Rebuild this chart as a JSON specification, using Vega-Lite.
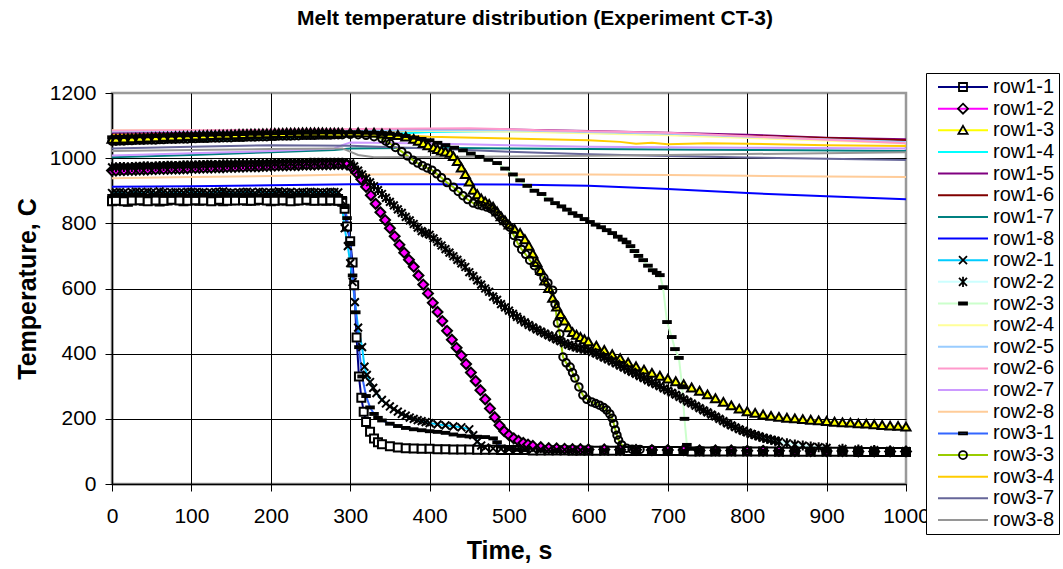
{
"$schema":"https://vega.github.io/schema/vega-lite/v6.json",
"width":794,"height":391,
"autosize":{"type":"none"},
"padding":{"left":112,"top":93,"right":157,"bottom":85},
"background":"white",
"title":{"text":"Melt temperature distribution (Experiment CT-3)","font":"Liberation Sans","fontSize":21,"fontWeight":"bold","color":"black","anchor":"middle","frame":"group","offset":44,"dx":26},
"config":{"view":{"stroke":"#999999","strokeWidth":2.5},"font":"Liberation Sans"},
"data":{"values":[
{"s":"row1-1","t":0,"v":868},{"s":"row1-1","t":10,"v":870},{"s":"row1-1","t":20,"v":866},{"s":"row1-1","t":30,"v":872},{"s":"row1-1","t":40,"v":869},{"s":"row1-1","t":50,"v":871},{"s":"row1-1","t":60,"v":867},{"s":"row1-1","t":70,"v":870},{"s":"row1-1","t":80,"v":873},{"s":"row1-1","t":90,"v":868},{"s":"row1-1","t":100,"v":871},{"s":"row1-1","t":110,"v":869},{"s":"row1-1","t":120,"v":872},{"s":"row1-1","t":130,"v":870},{"s":"row1-1","t":140,"v":868},{"s":"row1-1","t":150,"v":871},{"s":"row1-1","t":160,"v":873},{"s":"row1-1","t":170,"v":869},{"s":"row1-1","t":180,"v":870},{"s":"row1-1","t":190,"v":872},{"s":"row1-1","t":200,"v":868},{"s":"row1-1","t":210,"v":871},{"s":"row1-1","t":220,"v":870},{"s":"row1-1","t":230,"v":869},{"s":"row1-1","t":240,"v":872},{"s":"row1-1","t":250,"v":870},{"s":"row1-1","t":260,"v":871},{"s":"row1-1","t":270,"v":869},{"s":"row1-1","t":280,"v":870},{"s":"row1-1","t":290,"v":866},{"s":"row1-1","t":293,"v":845},{"s":"row1-1","t":296,"v":790},{"s":"row1-1","t":300,"v":745},{"s":"row1-1","t":303,"v":680},{"s":"row1-1","t":305,"v":610},{"s":"row1-1","t":308,"v":450},{"s":"row1-1","t":311,"v":330},{"s":"row1-1","t":314,"v":265},{"s":"row1-1","t":317,"v":222},{"s":"row1-1","t":320,"v":190},{"s":"row1-1","t":325,"v":160},{"s":"row1-1","t":330,"v":140},{"s":"row1-1","t":335,"v":128},{"s":"row1-1","t":340,"v":122},{"s":"row1-1","t":350,"v":116},{"s":"row1-1","t":360,"v":112},{"s":"row1-1","t":370,"v":110},{"s":"row1-1","t":380,"v":109},{"s":"row1-1","t":390,"v":108},{"s":"row1-1","t":400,"v":108},{"s":"row1-1","t":410,"v":107},{"s":"row1-1","t":420,"v":107},{"s":"row1-1","t":430,"v":106},{"s":"row1-1","t":440,"v":106},{"s":"row1-1","t":450,"v":106},{"s":"row1-1","t":460,"v":105},{"s":"row1-1","t":470,"v":105},{"s":"row1-1","t":480,"v":105},{"s":"row1-1","t":490,"v":104},{"s":"row1-1","t":500,"v":104},{"s":"row1-1","t":510,"v":104},{"s":"row1-1","t":520,"v":104},{"s":"row1-1","t":530,"v":103},{"s":"row1-1","t":540,"v":103},{"s":"row1-1","t":550,"v":103},{"s":"row1-1","t":560,"v":103},{"s":"row1-1","t":570,"v":103},{"s":"row1-1","t":580,"v":102},{"s":"row1-1","t":590,"v":102},{"s":"row1-1","t":600,"v":102},{"s":"row1-1","t":610,"v":102},{"s":"row1-1","t":620,"v":102},{"s":"row1-1","t":630,"v":102},{"s":"row1-1","t":640,"v":102},{"s":"row1-1","t":650,"v":101},{"s":"row1-1","t":660,"v":101},{"s":"row1-1","t":670,"v":101},{"s":"row1-1","t":680,"v":101},{"s":"row1-1","t":690,"v":101},{"s":"row1-1","t":700,"v":101},{"s":"row1-1","t":710,"v":101},{"s":"row1-1","t":720,"v":101},{"s":"row1-1","t":730,"v":100},{"s":"row1-1","t":740,"v":100},{"s":"row1-1","t":750,"v":100},{"s":"row1-1","t":760,"v":100},{"s":"row1-1","t":770,"v":100},{"s":"row1-1","t":780,"v":100},{"s":"row1-1","t":790,"v":100},{"s":"row1-1","t":800,"v":100},{"s":"row1-1","t":810,"v":100},{"s":"row1-1","t":820,"v":100},{"s":"row1-1","t":830,"v":100},{"s":"row1-1","t":840,"v":99},{"s":"row1-1","t":850,"v":99},{"s":"row1-1","t":860,"v":99},{"s":"row1-1","t":870,"v":99},{"s":"row1-1","t":880,"v":99},{"s":"row1-1","t":890,"v":99},{"s":"row1-1","t":900,"v":99},{"s":"row1-1","t":910,"v":99},{"s":"row1-1","t":920,"v":99},{"s":"row1-1","t":930,"v":99},{"s":"row1-1","t":940,"v":98},{"s":"row1-1","t":950,"v":98},{"s":"row1-1","t":960,"v":98},{"s":"row1-1","t":970,"v":98},{"s":"row1-1","t":980,"v":98},{"s":"row1-1","t":990,"v":98},{"s":"row1-1","t":1000,"v":98},
{"s":"row1-2","t":0,"v":962},{"s":"row1-2","t":10,"v":963},{"s":"row1-2","t":20,"v":964},{"s":"row1-2","t":30,"v":964},{"s":"row1-2","t":40,"v":965},{"s":"row1-2","t":50,"v":966},{"s":"row1-2","t":60,"v":967},{"s":"row1-2","t":70,"v":967},{"s":"row1-2","t":80,"v":968},{"s":"row1-2","t":90,"v":969},{"s":"row1-2","t":100,"v":970},{"s":"row1-2","t":110,"v":970},{"s":"row1-2","t":120,"v":971},{"s":"row1-2","t":130,"v":972},{"s":"row1-2","t":140,"v":972},{"s":"row1-2","t":150,"v":973},{"s":"row1-2","t":160,"v":974},{"s":"row1-2","t":170,"v":975},{"s":"row1-2","t":180,"v":975},{"s":"row1-2","t":190,"v":976},{"s":"row1-2","t":200,"v":977},{"s":"row1-2","t":210,"v":978},{"s":"row1-2","t":220,"v":978},{"s":"row1-2","t":230,"v":979},{"s":"row1-2","t":240,"v":980},{"s":"row1-2","t":250,"v":980},{"s":"row1-2","t":260,"v":981},{"s":"row1-2","t":270,"v":981},{"s":"row1-2","t":280,"v":982},{"s":"row1-2","t":290,"v":982},{"s":"row1-2","t":296,"v":980},{"s":"row1-2","t":302,"v":972},{"s":"row1-2","t":308,"v":955},{"s":"row1-2","t":314,"v":935},{"s":"row1-2","t":320,"v":912},{"s":"row1-2","t":326,"v":886},{"s":"row1-2","t":332,"v":860},{"s":"row1-2","t":338,"v":834},{"s":"row1-2","t":344,"v":810},{"s":"row1-2","t":350,"v":785},{"s":"row1-2","t":356,"v":760},{"s":"row1-2","t":362,"v":734},{"s":"row1-2","t":368,"v":710},{"s":"row1-2","t":374,"v":688},{"s":"row1-2","t":380,"v":667},{"s":"row1-2","t":386,"v":640},{"s":"row1-2","t":392,"v":612},{"s":"row1-2","t":398,"v":585},{"s":"row1-2","t":404,"v":556},{"s":"row1-2","t":410,"v":528},{"s":"row1-2","t":416,"v":500},{"s":"row1-2","t":422,"v":470},{"s":"row1-2","t":428,"v":443},{"s":"row1-2","t":434,"v":418},{"s":"row1-2","t":440,"v":394},{"s":"row1-2","t":446,"v":368},{"s":"row1-2","t":452,"v":342},{"s":"row1-2","t":458,"v":316},{"s":"row1-2","t":464,"v":288},{"s":"row1-2","t":470,"v":260},{"s":"row1-2","t":476,"v":232},{"s":"row1-2","t":482,"v":205},{"s":"row1-2","t":488,"v":180},{"s":"row1-2","t":494,"v":162},{"s":"row1-2","t":500,"v":150},{"s":"row1-2","t":506,"v":140},{"s":"row1-2","t":512,"v":132},{"s":"row1-2","t":518,"v":126},{"s":"row1-2","t":524,"v":121},{"s":"row1-2","t":530,"v":117},{"s":"row1-2","t":540,"v":113},{"s":"row1-2","t":550,"v":110},{"s":"row1-2","t":560,"v":109},{"s":"row1-2","t":570,"v":108},{"s":"row1-2","t":580,"v":107},{"s":"row1-2","t":590,"v":107},{"s":"row1-2","t":600,"v":106},{"s":"row1-2","t":620,"v":106},{"s":"row1-2","t":640,"v":105},{"s":"row1-2","t":660,"v":105},{"s":"row1-2","t":680,"v":104},{"s":"row1-2","t":700,"v":104},{"s":"row1-2","t":720,"v":104},{"s":"row1-2","t":740,"v":103},{"s":"row1-2","t":760,"v":103},{"s":"row1-2","t":780,"v":103},{"s":"row1-2","t":800,"v":102},{"s":"row1-2","t":820,"v":102},{"s":"row1-2","t":840,"v":102},{"s":"row1-2","t":860,"v":101},{"s":"row1-2","t":880,"v":101},{"s":"row1-2","t":900,"v":101},{"s":"row1-2","t":920,"v":101},{"s":"row1-2","t":940,"v":100},{"s":"row1-2","t":960,"v":100},{"s":"row1-2","t":980,"v":100},{"s":"row1-2","t":1000,"v":100},
{"s":"row1-3","t":0,"v":1058},{"s":"row1-3","t":10,"v":1059},{"s":"row1-3","t":20,"v":1060},{"s":"row1-3","t":30,"v":1061},{"s":"row1-3","t":40,"v":1062},{"s":"row1-3","t":50,"v":1063},{"s":"row1-3","t":60,"v":1064},{"s":"row1-3","t":70,"v":1065},{"s":"row1-3","t":80,"v":1066},{"s":"row1-3","t":90,"v":1067},{"s":"row1-3","t":100,"v":1068},{"s":"row1-3","t":110,"v":1069},{"s":"row1-3","t":120,"v":1070},{"s":"row1-3","t":130,"v":1070},{"s":"row1-3","t":140,"v":1071},{"s":"row1-3","t":150,"v":1072},{"s":"row1-3","t":160,"v":1073},{"s":"row1-3","t":170,"v":1073},{"s":"row1-3","t":180,"v":1074},{"s":"row1-3","t":190,"v":1075},{"s":"row1-3","t":200,"v":1075},{"s":"row1-3","t":210,"v":1076},{"s":"row1-3","t":220,"v":1077},{"s":"row1-3","t":230,"v":1077},{"s":"row1-3","t":240,"v":1078},{"s":"row1-3","t":250,"v":1078},{"s":"row1-3","t":260,"v":1078},{"s":"row1-3","t":270,"v":1077},{"s":"row1-3","t":280,"v":1077},{"s":"row1-3","t":290,"v":1077},{"s":"row1-3","t":300,"v":1078},{"s":"row1-3","t":310,"v":1078},{"s":"row1-3","t":320,"v":1077},{"s":"row1-3","t":330,"v":1077},{"s":"row1-3","t":340,"v":1075},{"s":"row1-3","t":350,"v":1073},{"s":"row1-3","t":360,"v":1070},{"s":"row1-3","t":370,"v":1065},{"s":"row1-3","t":380,"v":1058},{"s":"row1-3","t":386,"v":1052},{"s":"row1-3","t":392,"v":1045},{"s":"row1-3","t":398,"v":1038},{"s":"row1-3","t":405,"v":1032},{"s":"row1-3","t":410,"v":1027},{"s":"row1-3","t":415,"v":1022},{"s":"row1-3","t":420,"v":1019},{"s":"row1-3","t":426,"v":1015},{"s":"row1-3","t":430,"v":1005},{"s":"row1-3","t":435,"v":990},{"s":"row1-3","t":440,"v":970},{"s":"row1-3","t":445,"v":950},{"s":"row1-3","t":450,"v":927},{"s":"row1-3","t":455,"v":902},{"s":"row1-3","t":460,"v":888},{"s":"row1-3","t":465,"v":875},{"s":"row1-3","t":470,"v":866},{"s":"row1-3","t":475,"v":858},{"s":"row1-3","t":480,"v":850},{"s":"row1-3","t":485,"v":835},{"s":"row1-3","t":490,"v":820},{"s":"row1-3","t":495,"v":808},{"s":"row1-3","t":500,"v":795},{"s":"row1-3","t":507,"v":782},{"s":"row1-3","t":514,"v":769},{"s":"row1-3","t":520,"v":750},{"s":"row1-3","t":525,"v":730},{"s":"row1-3","t":530,"v":706},{"s":"row1-3","t":535,"v":680},{"s":"row1-3","t":540,"v":655},{"s":"row1-3","t":545,"v":623},{"s":"row1-3","t":550,"v":600},{"s":"row1-3","t":555,"v":570},{"s":"row1-3","t":560,"v":543},{"s":"row1-3","t":565,"v":520},{"s":"row1-3","t":570,"v":500},{"s":"row1-3","t":575,"v":480},{"s":"row1-3","t":580,"v":465},{"s":"row1-3","t":585,"v":457},{"s":"row1-3","t":590,"v":450},{"s":"row1-3","t":595,"v":443},{"s":"row1-3","t":600,"v":437},{"s":"row1-3","t":610,"v":423},{"s":"row1-3","t":620,"v":410},{"s":"row1-3","t":630,"v":397},{"s":"row1-3","t":640,"v":385},{"s":"row1-3","t":650,"v":372},{"s":"row1-3","t":660,"v":360},{"s":"row1-3","t":670,"v":350},{"s":"row1-3","t":680,"v":340},{"s":"row1-3","t":690,"v":331},{"s":"row1-3","t":700,"v":322},{"s":"row1-3","t":710,"v":314},{"s":"row1-3","t":720,"v":305},{"s":"row1-3","t":730,"v":295},{"s":"row1-3","t":740,"v":285},{"s":"row1-3","t":750,"v":274},{"s":"row1-3","t":760,"v":262},{"s":"row1-3","t":770,"v":251},{"s":"row1-3","t":780,"v":240},{"s":"row1-3","t":790,"v":230},{"s":"row1-3","t":800,"v":222},{"s":"row1-3","t":810,"v":217},{"s":"row1-3","t":820,"v":212},{"s":"row1-3","t":830,"v":208},{"s":"row1-3","t":840,"v":205},{"s":"row1-3","t":850,"v":202},{"s":"row1-3","t":860,"v":200},{"s":"row1-3","t":870,"v":198},{"s":"row1-3","t":880,"v":196},{"s":"row1-3","t":890,"v":194},{"s":"row1-3","t":900,"v":192},{"s":"row1-3","t":910,"v":190},{"s":"row1-3","t":920,"v":188},{"s":"row1-3","t":930,"v":187},{"s":"row1-3","t":940,"v":185},{"s":"row1-3","t":950,"v":184},{"s":"row1-3","t":960,"v":182},{"s":"row1-3","t":970,"v":180},{"s":"row1-3","t":980,"v":178},{"s":"row1-3","t":990,"v":177},{"s":"row1-3","t":1000,"v":175},
{"s":"row1-4","t":0,"v":1050},{"s":"row1-4","t":100,"v":1055},{"s":"row1-4","t":200,"v":1060},{"s":"row1-4","t":300,"v":1068},{"s":"row1-4","t":400,"v":1080},{"s":"row1-4","t":500,"v":1083},{"s":"row1-4","t":600,"v":1078},{"s":"row1-4","t":700,"v":1072},{"s":"row1-4","t":800,"v":1065},{"s":"row1-4","t":900,"v":1058},{"s":"row1-4","t":1000,"v":1050},
{"s":"row1-5","t":0,"v":1078},{"s":"row1-5","t":100,"v":1080},{"s":"row1-5","t":200,"v":1082},{"s":"row1-5","t":300,"v":1085},{"s":"row1-5","t":400,"v":1088},{"s":"row1-5","t":500,"v":1088},{"s":"row1-5","t":600,"v":1083},{"s":"row1-5","t":700,"v":1078},{"s":"row1-5","t":800,"v":1072},{"s":"row1-5","t":900,"v":1063},{"s":"row1-5","t":1000,"v":1058},
{"s":"row1-6","t":0,"v":1072},{"s":"row1-6","t":100,"v":1075},{"s":"row1-6","t":200,"v":1078},{"s":"row1-6","t":300,"v":1082},{"s":"row1-6","t":400,"v":1085},{"s":"row1-6","t":500,"v":1084},{"s":"row1-6","t":600,"v":1080},{"s":"row1-6","t":700,"v":1073},{"s":"row1-6","t":800,"v":1068},{"s":"row1-6","t":900,"v":1062},{"s":"row1-6","t":1000,"v":1055},
{"s":"row1-7","t":0,"v":1003},{"s":"row1-7","t":100,"v":1010},{"s":"row1-7","t":200,"v":1018},{"s":"row1-7","t":280,"v":1025},{"s":"row1-7","t":300,"v":1030},{"s":"row1-7","t":400,"v":1032},{"s":"row1-7","t":500,"v":1030},{"s":"row1-7","t":600,"v":1028},{"s":"row1-7","t":800,"v":1025},{"s":"row1-7","t":1000,"v":1022},
{"s":"row1-8","t":0,"v":912},{"s":"row1-8","t":100,"v":914},{"s":"row1-8","t":200,"v":917},{"s":"row1-8","t":300,"v":920},{"s":"row1-8","t":400,"v":920},{"s":"row1-8","t":500,"v":919},{"s":"row1-8","t":600,"v":915},{"s":"row1-8","t":700,"v":905},{"s":"row1-8","t":800,"v":893},{"s":"row1-8","t":900,"v":883},{"s":"row1-8","t":1000,"v":874},
{"s":"row2-1","t":0,"v":893},{"s":"row2-1","t":10,"v":896},{"s":"row2-1","t":20,"v":892},{"s":"row2-1","t":30,"v":897},{"s":"row2-1","t":40,"v":894},{"s":"row2-1","t":50,"v":895},{"s":"row2-1","t":60,"v":898},{"s":"row2-1","t":70,"v":893},{"s":"row2-1","t":80,"v":896},{"s":"row2-1","t":90,"v":894},{"s":"row2-1","t":100,"v":897},{"s":"row2-1","t":110,"v":895},{"s":"row2-1","t":120,"v":893},{"s":"row2-1","t":130,"v":896},{"s":"row2-1","t":140,"v":898},{"s":"row2-1","t":150,"v":894},{"s":"row2-1","t":160,"v":895},{"s":"row2-1","t":170,"v":897},{"s":"row2-1","t":180,"v":893},{"s":"row2-1","t":190,"v":896},{"s":"row2-1","t":200,"v":894},{"s":"row2-1","t":210,"v":898},{"s":"row2-1","t":220,"v":895},{"s":"row2-1","t":230,"v":893},{"s":"row2-1","t":240,"v":896},{"s":"row2-1","t":250,"v":897},{"s":"row2-1","t":260,"v":894},{"s":"row2-1","t":270,"v":895},{"s":"row2-1","t":280,"v":896},{"s":"row2-1","t":285,"v":895},{"s":"row2-1","t":289,"v":870},{"s":"row2-1","t":293,"v":785},{"s":"row2-1","t":297,"v":730},{"s":"row2-1","t":300,"v":678},{"s":"row2-1","t":303,"v":620},{"s":"row2-1","t":306,"v":558},{"s":"row2-1","t":310,"v":480},{"s":"row2-1","t":315,"v":420},{"s":"row2-1","t":318,"v":360},{"s":"row2-1","t":321,"v":335},{"s":"row2-1","t":325,"v":313},{"s":"row2-1","t":329,"v":295},{"s":"row2-1","t":333,"v":279},{"s":"row2-1","t":340,"v":258},{"s":"row2-1","t":345,"v":247},{"s":"row2-1","t":350,"v":238},{"s":"row2-1","t":355,"v":230},{"s":"row2-1","t":360,"v":222},{"s":"row2-1","t":365,"v":215},{"s":"row2-1","t":370,"v":210},{"s":"row2-1","t":375,"v":204},{"s":"row2-1","t":380,"v":200},{"s":"row2-1","t":385,"v":196},{"s":"row2-1","t":390,"v":193},{"s":"row2-1","t":395,"v":190},{"s":"row2-1","t":400,"v":187},{"s":"row2-1","t":410,"v":183},{"s":"row2-1","t":420,"v":180},{"s":"row2-1","t":430,"v":177},{"s":"row2-1","t":440,"v":174},{"s":"row2-1","t":450,"v":168},{"s":"row2-1","t":455,"v":150},{"s":"row2-1","t":460,"v":130},{"s":"row2-1","t":465,"v":118},{"s":"row2-1","t":470,"v":112},{"s":"row2-1","t":480,"v":109},{"s":"row2-1","t":490,"v":108},{"s":"row2-1","t":500,"v":107},{"s":"row2-1","t":510,"v":107},{"s":"row2-1","t":520,"v":106},{"s":"row2-1","t":530,"v":106},{"s":"row2-1","t":540,"v":106},{"s":"row2-1","t":550,"v":105},{"s":"row2-1","t":560,"v":105},{"s":"row2-1","t":570,"v":105},{"s":"row2-1","t":580,"v":105},{"s":"row2-1","t":590,"v":104},{"s":"row2-1","t":600,"v":104},{"s":"row2-1","t":620,"v":104},{"s":"row2-1","t":640,"v":103},{"s":"row2-1","t":660,"v":103},{"s":"row2-1","t":680,"v":103},{"s":"row2-1","t":700,"v":103},{"s":"row2-1","t":720,"v":102},{"s":"row2-1","t":740,"v":102},{"s":"row2-1","t":760,"v":102},{"s":"row2-1","t":780,"v":102},{"s":"row2-1","t":800,"v":102},{"s":"row2-1","t":820,"v":101},{"s":"row2-1","t":840,"v":101},{"s":"row2-1","t":860,"v":101},{"s":"row2-1","t":880,"v":101},{"s":"row2-1","t":900,"v":101},{"s":"row2-1","t":920,"v":101},{"s":"row2-1","t":940,"v":100},{"s":"row2-1","t":960,"v":100},{"s":"row2-1","t":980,"v":100},{"s":"row2-1","t":1000,"v":100},
{"s":"row2-2","t":0,"v":972},{"s":"row2-2","t":10,"v":973},{"s":"row2-2","t":20,"v":972},{"s":"row2-2","t":30,"v":974},{"s":"row2-2","t":40,"v":975},{"s":"row2-2","t":50,"v":974},{"s":"row2-2","t":60,"v":976},{"s":"row2-2","t":70,"v":977},{"s":"row2-2","t":80,"v":976},{"s":"row2-2","t":90,"v":978},{"s":"row2-2","t":100,"v":978},{"s":"row2-2","t":110,"v":979},{"s":"row2-2","t":120,"v":980},{"s":"row2-2","t":130,"v":979},{"s":"row2-2","t":140,"v":981},{"s":"row2-2","t":150,"v":981},{"s":"row2-2","t":160,"v":982},{"s":"row2-2","t":170,"v":982},{"s":"row2-2","t":180,"v":983},{"s":"row2-2","t":190,"v":983},{"s":"row2-2","t":200,"v":984},{"s":"row2-2","t":210,"v":984},{"s":"row2-2","t":220,"v":985},{"s":"row2-2","t":230,"v":985},{"s":"row2-2","t":240,"v":985},{"s":"row2-2","t":250,"v":986},{"s":"row2-2","t":260,"v":986},{"s":"row2-2","t":270,"v":986},{"s":"row2-2","t":280,"v":986},{"s":"row2-2","t":290,"v":986},{"s":"row2-2","t":300,"v":984},{"s":"row2-2","t":305,"v":975},{"s":"row2-2","t":310,"v":962},{"s":"row2-2","t":315,"v":950},{"s":"row2-2","t":320,"v":938},{"s":"row2-2","t":325,"v":926},{"s":"row2-2","t":330,"v":914},{"s":"row2-2","t":335,"v":902},{"s":"row2-2","t":340,"v":890},{"s":"row2-2","t":345,"v":878},{"s":"row2-2","t":350,"v":866},{"s":"row2-2","t":355,"v":855},{"s":"row2-2","t":360,"v":843},{"s":"row2-2","t":365,"v":832},{"s":"row2-2","t":370,"v":820},{"s":"row2-2","t":375,"v":809},{"s":"row2-2","t":380,"v":798},{"s":"row2-2","t":385,"v":787},{"s":"row2-2","t":390,"v":776},{"s":"row2-2","t":395,"v":770},{"s":"row2-2","t":400,"v":765},{"s":"row2-2","t":405,"v":754},{"s":"row2-2","t":410,"v":743},{"s":"row2-2","t":415,"v":732},{"s":"row2-2","t":420,"v":721},{"s":"row2-2","t":425,"v":710},{"s":"row2-2","t":430,"v":699},{"s":"row2-2","t":435,"v":688},{"s":"row2-2","t":440,"v":677},{"s":"row2-2","t":445,"v":666},{"s":"row2-2","t":450,"v":650},{"s":"row2-2","t":455,"v":638},{"s":"row2-2","t":460,"v":625},{"s":"row2-2","t":465,"v":612},{"s":"row2-2","t":470,"v":600},{"s":"row2-2","t":475,"v":590},{"s":"row2-2","t":480,"v":575},{"s":"row2-2","t":485,"v":565},{"s":"row2-2","t":490,"v":552},{"s":"row2-2","t":495,"v":542},{"s":"row2-2","t":500,"v":532},{"s":"row2-2","t":505,"v":522},{"s":"row2-2","t":510,"v":513},{"s":"row2-2","t":515,"v":504},{"s":"row2-2","t":520,"v":496},{"s":"row2-2","t":525,"v":488},{"s":"row2-2","t":530,"v":481},{"s":"row2-2","t":535,"v":474},{"s":"row2-2","t":540,"v":468},{"s":"row2-2","t":545,"v":462},{"s":"row2-2","t":550,"v":456},{"s":"row2-2","t":555,"v":450},{"s":"row2-2","t":560,"v":444},{"s":"row2-2","t":565,"v":438},{"s":"row2-2","t":570,"v":432},{"s":"row2-2","t":575,"v":427},{"s":"row2-2","t":580,"v":423},{"s":"row2-2","t":585,"v":419},{"s":"row2-2","t":590,"v":416},{"s":"row2-2","t":595,"v":413},{"s":"row2-2","t":600,"v":411},{"s":"row2-2","t":605,"v":405},{"s":"row2-2","t":610,"v":400},{"s":"row2-2","t":615,"v":394},{"s":"row2-2","t":620,"v":388},{"s":"row2-2","t":625,"v":382},{"s":"row2-2","t":630,"v":376},{"s":"row2-2","t":635,"v":370},{"s":"row2-2","t":640,"v":363},{"s":"row2-2","t":645,"v":357},{"s":"row2-2","t":650,"v":350},{"s":"row2-2","t":655,"v":344},{"s":"row2-2","t":660,"v":338},{"s":"row2-2","t":665,"v":331},{"s":"row2-2","t":670,"v":325},{"s":"row2-2","t":675,"v":318},{"s":"row2-2","t":680,"v":312},{"s":"row2-2","t":685,"v":306},{"s":"row2-2","t":690,"v":300},{"s":"row2-2","t":695,"v":293},{"s":"row2-2","t":700,"v":287},{"s":"row2-2","t":705,"v":280},{"s":"row2-2","t":710,"v":274},{"s":"row2-2","t":715,"v":267},{"s":"row2-2","t":720,"v":260},{"s":"row2-2","t":725,"v":253},{"s":"row2-2","t":730,"v":247},{"s":"row2-2","t":735,"v":240},{"s":"row2-2","t":740,"v":233},{"s":"row2-2","t":745,"v":226},{"s":"row2-2","t":750,"v":220},{"s":"row2-2","t":755,"v":213},{"s":"row2-2","t":760,"v":207},{"s":"row2-2","t":765,"v":200},{"s":"row2-2","t":770,"v":193},{"s":"row2-2","t":775,"v":186},{"s":"row2-2","t":780,"v":180},{"s":"row2-2","t":785,"v":174},{"s":"row2-2","t":790,"v":168},{"s":"row2-2","t":795,"v":163},{"s":"row2-2","t":800,"v":158},{"s":"row2-2","t":805,"v":154},{"s":"row2-2","t":810,"v":150},{"s":"row2-2","t":815,"v":146},{"s":"row2-2","t":820,"v":142},{"s":"row2-2","t":825,"v":139},{"s":"row2-2","t":830,"v":136},{"s":"row2-2","t":835,"v":133},{"s":"row2-2","t":840,"v":130},{"s":"row2-2","t":850,"v":125},{"s":"row2-2","t":860,"v":121},{"s":"row2-2","t":870,"v":118},{"s":"row2-2","t":880,"v":115},{"s":"row2-2","t":890,"v":113},{"s":"row2-2","t":900,"v":111},{"s":"row2-2","t":920,"v":108},{"s":"row2-2","t":940,"v":106},{"s":"row2-2","t":960,"v":104},{"s":"row2-2","t":980,"v":102},{"s":"row2-2","t":1000,"v":101},
{"s":"row2-3","t":0,"v":1064},{"s":"row2-3","t":10,"v":1065},{"s":"row2-3","t":20,"v":1066},{"s":"row2-3","t":30,"v":1066},{"s":"row2-3","t":40,"v":1067},{"s":"row2-3","t":50,"v":1068},{"s":"row2-3","t":60,"v":1068},{"s":"row2-3","t":70,"v":1069},{"s":"row2-3","t":80,"v":1070},{"s":"row2-3","t":90,"v":1070},{"s":"row2-3","t":100,"v":1071},{"s":"row2-3","t":110,"v":1071},{"s":"row2-3","t":120,"v":1072},{"s":"row2-3","t":130,"v":1072},{"s":"row2-3","t":140,"v":1073},{"s":"row2-3","t":150,"v":1073},{"s":"row2-3","t":160,"v":1074},{"s":"row2-3","t":170,"v":1074},{"s":"row2-3","t":180,"v":1075},{"s":"row2-3","t":190,"v":1075},{"s":"row2-3","t":200,"v":1076},{"s":"row2-3","t":210,"v":1076},{"s":"row2-3","t":220,"v":1077},{"s":"row2-3","t":230,"v":1077},{"s":"row2-3","t":240,"v":1078},{"s":"row2-3","t":250,"v":1078},{"s":"row2-3","t":260,"v":1078},{"s":"row2-3","t":270,"v":1079},{"s":"row2-3","t":280,"v":1079},{"s":"row2-3","t":290,"v":1079},{"s":"row2-3","t":300,"v":1079},{"s":"row2-3","t":310,"v":1079},{"s":"row2-3","t":320,"v":1078},{"s":"row2-3","t":330,"v":1078},{"s":"row2-3","t":340,"v":1077},{"s":"row2-3","t":350,"v":1075},{"s":"row2-3","t":360,"v":1072},{"s":"row2-3","t":370,"v":1068},{"s":"row2-3","t":380,"v":1063},{"s":"row2-3","t":390,"v":1059},{"s":"row2-3","t":400,"v":1055},{"s":"row2-3","t":410,"v":1047},{"s":"row2-3","t":420,"v":1040},{"s":"row2-3","t":431,"v":1032},{"s":"row2-3","t":442,"v":1024},{"s":"row2-3","t":452,"v":1014},{"s":"row2-3","t":463,"v":1004},{"s":"row2-3","t":474,"v":995},{"s":"row2-3","t":485,"v":985},{"s":"row2-3","t":495,"v":968},{"s":"row2-3","t":505,"v":950},{"s":"row2-3","t":514,"v":932},{"s":"row2-3","t":523,"v":915},{"s":"row2-3","t":532,"v":900},{"s":"row2-3","t":541,"v":890},{"s":"row2-3","t":550,"v":873},{"s":"row2-3","t":558,"v":862},{"s":"row2-3","t":566,"v":852},{"s":"row2-3","t":573,"v":842},{"s":"row2-3","t":580,"v":831},{"s":"row2-3","t":587,"v":823},{"s":"row2-3","t":595,"v":813},{"s":"row2-3","t":602,"v":804},{"s":"row2-3","t":609,"v":796},{"s":"row2-3","t":616,"v":788},{"s":"row2-3","t":623,"v":779},{"s":"row2-3","t":630,"v":770},{"s":"row2-3","t":637,"v":759},{"s":"row2-3","t":643,"v":750},{"s":"row2-3","t":648,"v":742},{"s":"row2-3","t":653,"v":730},{"s":"row2-3","t":658,"v":715},{"s":"row2-3","t":663,"v":700},{"s":"row2-3","t":669,"v":687},{"s":"row2-3","t":675,"v":670},{"s":"row2-3","t":681,"v":656},{"s":"row2-3","t":686,"v":648},{"s":"row2-3","t":690,"v":641},{"s":"row2-3","t":694,"v":604},{"s":"row2-3","t":699,"v":497},{"s":"row2-3","t":705,"v":451},{"s":"row2-3","t":709,"v":414},{"s":"row2-3","t":714,"v":387},{"s":"row2-3","t":718,"v":300},{"s":"row2-3","t":721,"v":200},{"s":"row2-3","t":724,"v":120},{"s":"row2-3","t":728,"v":108},{"s":"row2-3","t":740,"v":105},{"s":"row2-3","t":760,"v":104},{"s":"row2-3","t":780,"v":103},{"s":"row2-3","t":800,"v":102},{"s":"row2-3","t":820,"v":102},{"s":"row2-3","t":840,"v":101},{"s":"row2-3","t":860,"v":101},{"s":"row2-3","t":880,"v":101},{"s":"row2-3","t":900,"v":100},{"s":"row2-3","t":920,"v":100},{"s":"row2-3","t":940,"v":100},{"s":"row2-3","t":960,"v":100},{"s":"row2-3","t":980,"v":99},{"s":"row2-3","t":1000,"v":99},
{"s":"row2-4","t":0,"v":1086},{"s":"row2-4","t":150,"v":1086},{"s":"row2-4","t":300,"v":1085},{"s":"row2-4","t":500,"v":1082},{"s":"row2-4","t":700,"v":1070},{"s":"row2-4","t":850,"v":1058},{"s":"row2-4","t":1000,"v":1045},
{"s":"row2-5","t":0,"v":1082},{"s":"row2-5","t":150,"v":1084},{"s":"row2-5","t":300,"v":1086},{"s":"row2-5","t":500,"v":1086},{"s":"row2-5","t":700,"v":1075},{"s":"row2-5","t":850,"v":1062},{"s":"row2-5","t":1000,"v":1050},
{"s":"row2-6","t":0,"v":1085},{"s":"row2-6","t":200,"v":1087},{"s":"row2-6","t":350,"v":1090},{"s":"row2-6","t":450,"v":1092},{"s":"row2-6","t":550,"v":1085},{"s":"row2-6","t":700,"v":1078},{"s":"row2-6","t":850,"v":1062},{"s":"row2-6","t":1000,"v":1046},
{"s":"row2-7","t":0,"v":1008},{"s":"row2-7","t":100,"v":1015},{"s":"row2-7","t":200,"v":1022},{"s":"row2-7","t":280,"v":1030},{"s":"row2-7","t":290,"v":1040},{"s":"row2-7","t":300,"v":1048},{"s":"row2-7","t":400,"v":1045},{"s":"row2-7","t":500,"v":1040},{"s":"row2-7","t":600,"v":1035},{"s":"row2-7","t":800,"v":1032},{"s":"row2-7","t":1000,"v":1030},
{"s":"row2-8","t":0,"v":938},{"s":"row2-8","t":100,"v":942},{"s":"row2-8","t":200,"v":945},{"s":"row2-8","t":300,"v":950},{"s":"row2-8","t":400,"v":951},{"s":"row2-8","t":500,"v":950},{"s":"row2-8","t":600,"v":950},{"s":"row2-8","t":700,"v":948},{"s":"row2-8","t":800,"v":946},{"s":"row2-8","t":900,"v":944},{"s":"row2-8","t":1000,"v":942},
{"s":"row3-1","t":0,"v":884},{"s":"row3-1","t":10,"v":886},{"s":"row3-1","t":20,"v":883},{"s":"row3-1","t":30,"v":887},{"s":"row3-1","t":40,"v":885},{"s":"row3-1","t":50,"v":884},{"s":"row3-1","t":60,"v":886},{"s":"row3-1","t":70,"v":883},{"s":"row3-1","t":80,"v":887},{"s":"row3-1","t":90,"v":885},{"s":"row3-1","t":100,"v":884},{"s":"row3-1","t":110,"v":886},{"s":"row3-1","t":120,"v":885},{"s":"row3-1","t":130,"v":883},{"s":"row3-1","t":140,"v":887},{"s":"row3-1","t":150,"v":885},{"s":"row3-1","t":160,"v":884},{"s":"row3-1","t":170,"v":886},{"s":"row3-1","t":180,"v":885},{"s":"row3-1","t":190,"v":883},{"s":"row3-1","t":200,"v":887},{"s":"row3-1","t":210,"v":885},{"s":"row3-1","t":220,"v":884},{"s":"row3-1","t":230,"v":886},{"s":"row3-1","t":240,"v":885},{"s":"row3-1","t":250,"v":884},{"s":"row3-1","t":260,"v":886},{"s":"row3-1","t":270,"v":885},{"s":"row3-1","t":280,"v":884},{"s":"row3-1","t":285,"v":884},{"s":"row3-1","t":290,"v":878},{"s":"row3-1","t":293,"v":850},{"s":"row3-1","t":296,"v":816},{"s":"row3-1","t":300,"v":740},{"s":"row3-1","t":303,"v":640},{"s":"row3-1","t":307,"v":527},{"s":"row3-1","t":311,"v":420},{"s":"row3-1","t":315,"v":330},{"s":"row3-1","t":320,"v":270},{"s":"row3-1","t":325,"v":235},{"s":"row3-1","t":330,"v":215},{"s":"row3-1","t":335,"v":203},{"s":"row3-1","t":340,"v":195},{"s":"row3-1","t":350,"v":185},{"s":"row3-1","t":360,"v":178},{"s":"row3-1","t":370,"v":172},{"s":"row3-1","t":380,"v":168},{"s":"row3-1","t":390,"v":165},{"s":"row3-1","t":400,"v":162},{"s":"row3-1","t":410,"v":160},{"s":"row3-1","t":420,"v":157},{"s":"row3-1","t":430,"v":152},{"s":"row3-1","t":440,"v":148},{"s":"row3-1","t":450,"v":146},{"s":"row3-1","t":460,"v":145},{"s":"row3-1","t":470,"v":144},{"s":"row3-1","t":480,"v":140},{"s":"row3-1","t":485,"v":128},{"s":"row3-1","t":490,"v":115},{"s":"row3-1","t":500,"v":108},{"s":"row3-1","t":510,"v":105},{"s":"row3-1","t":520,"v":104},{"s":"row3-1","t":540,"v":103},{"s":"row3-1","t":560,"v":103},{"s":"row3-1","t":580,"v":102},{"s":"row3-1","t":600,"v":102},{"s":"row3-1","t":620,"v":102},{"s":"row3-1","t":640,"v":101},{"s":"row3-1","t":660,"v":101},{"s":"row3-1","t":680,"v":101},{"s":"row3-1","t":700,"v":101},{"s":"row3-1","t":720,"v":100},{"s":"row3-1","t":740,"v":100},{"s":"row3-1","t":760,"v":100},{"s":"row3-1","t":780,"v":100},{"s":"row3-1","t":800,"v":100},{"s":"row3-1","t":820,"v":99},{"s":"row3-1","t":840,"v":99},{"s":"row3-1","t":860,"v":99},{"s":"row3-1","t":880,"v":99},{"s":"row3-1","t":900,"v":99},{"s":"row3-1","t":920,"v":99},{"s":"row3-1","t":940,"v":98},{"s":"row3-1","t":960,"v":98},{"s":"row3-1","t":980,"v":98},{"s":"row3-1","t":1000,"v":98},
{"s":"row3-3","t":0,"v":1052},{"s":"row3-3","t":10,"v":1053},{"s":"row3-3","t":20,"v":1054},{"s":"row3-3","t":30,"v":1055},{"s":"row3-3","t":40,"v":1055},{"s":"row3-3","t":50,"v":1056},{"s":"row3-3","t":60,"v":1057},{"s":"row3-3","t":70,"v":1058},{"s":"row3-3","t":80,"v":1058},{"s":"row3-3","t":90,"v":1059},{"s":"row3-3","t":100,"v":1060},{"s":"row3-3","t":110,"v":1061},{"s":"row3-3","t":120,"v":1061},{"s":"row3-3","t":130,"v":1062},{"s":"row3-3","t":140,"v":1063},{"s":"row3-3","t":150,"v":1063},{"s":"row3-3","t":160,"v":1064},{"s":"row3-3","t":170,"v":1065},{"s":"row3-3","t":180,"v":1065},{"s":"row3-3","t":190,"v":1066},{"s":"row3-3","t":200,"v":1067},{"s":"row3-3","t":210,"v":1068},{"s":"row3-3","t":220,"v":1068},{"s":"row3-3","t":230,"v":1069},{"s":"row3-3","t":240,"v":1070},{"s":"row3-3","t":250,"v":1070},{"s":"row3-3","t":260,"v":1071},{"s":"row3-3","t":270,"v":1071},{"s":"row3-3","t":280,"v":1072},{"s":"row3-3","t":290,"v":1072},{"s":"row3-3","t":300,"v":1073},{"s":"row3-3","t":310,"v":1072},{"s":"row3-3","t":320,"v":1070},{"s":"row3-3","t":330,"v":1066},{"s":"row3-3","t":340,"v":1060},{"s":"row3-3","t":345,"v":1052},{"s":"row3-3","t":350,"v":1045},{"s":"row3-3","t":357,"v":1033},{"s":"row3-3","t":365,"v":1020},{"s":"row3-3","t":372,"v":1007},{"s":"row3-3","t":379,"v":994},{"s":"row3-3","t":385,"v":985},{"s":"row3-3","t":391,"v":977},{"s":"row3-3","t":397,"v":970},{"s":"row3-3","t":403,"v":963},{"s":"row3-3","t":409,"v":952},{"s":"row3-3","t":415,"v":940},{"s":"row3-3","t":422,"v":925},{"s":"row3-3","t":430,"v":911},{"s":"row3-3","t":436,"v":898},{"s":"row3-3","t":442,"v":885},{"s":"row3-3","t":448,"v":873},{"s":"row3-3","t":455,"v":862},{"s":"row3-3","t":461,"v":857},{"s":"row3-3","t":466,"v":854},{"s":"row3-3","t":472,"v":850},{"s":"row3-3","t":477,"v":845},{"s":"row3-3","t":482,"v":836},{"s":"row3-3","t":487,"v":824},{"s":"row3-3","t":492,"v":810},{"s":"row3-3","t":497,"v":798},{"s":"row3-3","t":501,"v":788},{"s":"row3-3","t":506,"v":763},{"s":"row3-3","t":511,"v":739},{"s":"row3-3","t":516,"v":720},{"s":"row3-3","t":521,"v":705},{"s":"row3-3","t":526,"v":687},{"s":"row3-3","t":532,"v":670},{"s":"row3-3","t":538,"v":652},{"s":"row3-3","t":544,"v":633},{"s":"row3-3","t":549,"v":617},{"s":"row3-3","t":555,"v":595},{"s":"row3-3","t":558,"v":552},{"s":"row3-3","t":561,"v":494},{"s":"row3-3","t":564,"v":460},{"s":"row3-3","t":568,"v":390},{"s":"row3-3","t":572,"v":372},{"s":"row3-3","t":577,"v":359},{"s":"row3-3","t":580,"v":342},{"s":"row3-3","t":583,"v":325},{"s":"row3-3","t":588,"v":298},{"s":"row3-3","t":593,"v":273},{"s":"row3-3","t":598,"v":260},{"s":"row3-3","t":604,"v":252},{"s":"row3-3","t":609,"v":247},{"s":"row3-3","t":614,"v":242},{"s":"row3-3","t":619,"v":235},{"s":"row3-3","t":623,"v":227},{"s":"row3-3","t":627,"v":215},{"s":"row3-3","t":630,"v":202},{"s":"row3-3","t":632,"v":185},{"s":"row3-3","t":634,"v":166},{"s":"row3-3","t":636,"v":150},{"s":"row3-3","t":638,"v":135},{"s":"row3-3","t":642,"v":120},{"s":"row3-3","t":648,"v":110},{"s":"row3-3","t":655,"v":107},{"s":"row3-3","t":665,"v":106},{"s":"row3-3","t":680,"v":105},{"s":"row3-3","t":700,"v":104},{"s":"row3-3","t":720,"v":104},{"s":"row3-3","t":740,"v":103},{"s":"row3-3","t":760,"v":103},{"s":"row3-3","t":780,"v":102},{"s":"row3-3","t":800,"v":102},{"s":"row3-3","t":820,"v":102},{"s":"row3-3","t":840,"v":101},{"s":"row3-3","t":860,"v":101},{"s":"row3-3","t":880,"v":101},{"s":"row3-3","t":900,"v":100},{"s":"row3-3","t":920,"v":100},{"s":"row3-3","t":940,"v":100},{"s":"row3-3","t":960,"v":99},{"s":"row3-3","t":980,"v":99},{"s":"row3-3","t":1000,"v":99},
{"s":"row3-4","t":0,"v":1070},{"s":"row3-4","t":100,"v":1072},{"s":"row3-4","t":200,"v":1074},{"s":"row3-4","t":300,"v":1076},{"s":"row3-4","t":350,"v":1072},{"s":"row3-4","t":400,"v":1066},{"s":"row3-4","t":500,"v":1060},{"s":"row3-4","t":600,"v":1055},{"s":"row3-4","t":640,"v":1050},{"s":"row3-4","t":660,"v":1044},{"s":"row3-4","t":680,"v":1047},{"s":"row3-4","t":700,"v":1043},{"s":"row3-4","t":750,"v":1046},{"s":"row3-4","t":800,"v":1044},{"s":"row3-4","t":900,"v":1040},{"s":"row3-4","t":1000,"v":1037},
{"s":"row3-7","t":0,"v":1030},{"s":"row3-7","t":100,"v":1035},{"s":"row3-7","t":200,"v":1040},{"s":"row3-7","t":300,"v":1038},{"s":"row3-7","t":400,"v":1030},{"s":"row3-7","t":500,"v":1020},{"s":"row3-7","t":600,"v":1012},{"s":"row3-7","t":700,"v":1007},{"s":"row3-7","t":800,"v":1002},{"s":"row3-7","t":900,"v":998},{"s":"row3-7","t":1000,"v":994},
{"s":"row3-8","t":0,"v":1022},{"s":"row3-8","t":100,"v":1025},{"s":"row3-8","t":200,"v":1028},{"s":"row3-8","t":290,"v":1030},{"s":"row3-8","t":310,"v":1010},{"s":"row3-8","t":330,"v":1003},{"s":"row3-8","t":500,"v":1005},{"s":"row3-8","t":700,"v":1010},{"s":"row3-8","t":1000,"v":1018},
{"s":"row1-1","t":5,"v":869},{"s":"row1-1","t":15,"v":868},{"s":"row1-1","t":25,"v":870},{"s":"row1-1","t":35,"v":871},{"s":"row1-1","t":45,"v":868},{"s":"row1-1","t":55,"v":870},{"s":"row1-1","t":65,"v":869},{"s":"row1-1","t":75,"v":872},{"s":"row1-1","t":85,"v":870},{"s":"row1-1","t":95,"v":869},{"s":"row1-1","t":105,"v":871},{"s":"row1-1","t":115,"v":870},{"s":"row1-1","t":125,"v":868},{"s":"row1-1","t":135,"v":872},{"s":"row1-1","t":145,"v":869},{"s":"row1-1","t":155,"v":870},{"s":"row1-1","t":165,"v":871},{"s":"row1-1","t":175,"v":869},{"s":"row1-1","t":185,"v":872},{"s":"row1-1","t":195,"v":870},{"s":"row1-1","t":205,"v":869},{"s":"row1-1","t":215,"v":871},{"s":"row1-1","t":225,"v":868},{"s":"row1-1","t":235,"v":870},{"s":"row1-1","t":245,"v":872},{"s":"row1-1","t":255,"v":869},{"s":"row1-1","t":265,"v":870},{"s":"row1-1","t":275,"v":871},{"s":"row1-1","t":285,"v":869},
{"s":"row1-2","t":5,"v":962},{"s":"row1-2","t":15,"v":963},{"s":"row1-2","t":25,"v":964},{"s":"row1-2","t":35,"v":965},{"s":"row1-2","t":45,"v":965},{"s":"row1-2","t":55,"v":966},{"s":"row1-2","t":65,"v":967},{"s":"row1-2","t":75,"v":968},{"s":"row1-2","t":85,"v":968},{"s":"row1-2","t":95,"v":969},{"s":"row1-2","t":105,"v":970},{"s":"row1-2","t":115,"v":971},{"s":"row1-2","t":125,"v":971},{"s":"row1-2","t":135,"v":972},{"s":"row1-2","t":145,"v":973},{"s":"row1-2","t":155,"v":973},{"s":"row1-2","t":165,"v":974},{"s":"row1-2","t":175,"v":975},{"s":"row1-2","t":185,"v":975},{"s":"row1-2","t":195,"v":976},{"s":"row1-2","t":205,"v":977},{"s":"row1-2","t":215,"v":978},{"s":"row1-2","t":225,"v":979},{"s":"row1-2","t":235,"v":979},{"s":"row1-2","t":245,"v":980},{"s":"row1-2","t":255,"v":980},{"s":"row1-2","t":265,"v":981},{"s":"row1-2","t":275,"v":981},{"s":"row1-2","t":285,"v":982},
{"s":"row1-3","t":5,"v":1058},{"s":"row1-3","t":15,"v":1059},{"s":"row1-3","t":25,"v":1060},{"s":"row1-3","t":35,"v":1061},{"s":"row1-3","t":45,"v":1062},{"s":"row1-3","t":55,"v":1063},{"s":"row1-3","t":65,"v":1064},{"s":"row1-3","t":75,"v":1065},{"s":"row1-3","t":85,"v":1066},{"s":"row1-3","t":95,"v":1067},{"s":"row1-3","t":105,"v":1068},{"s":"row1-3","t":115,"v":1069},{"s":"row1-3","t":125,"v":1070},{"s":"row1-3","t":135,"v":1071},{"s":"row1-3","t":145,"v":1071},{"s":"row1-3","t":155,"v":1072},{"s":"row1-3","t":165,"v":1073},{"s":"row1-3","t":175,"v":1074},{"s":"row1-3","t":185,"v":1074},{"s":"row1-3","t":195,"v":1075},{"s":"row1-3","t":205,"v":1076},{"s":"row1-3","t":215,"v":1076},{"s":"row1-3","t":225,"v":1077},{"s":"row1-3","t":235,"v":1077},{"s":"row1-3","t":245,"v":1078},{"s":"row1-3","t":255,"v":1078},{"s":"row1-3","t":265,"v":1078},{"s":"row1-3","t":275,"v":1077},{"s":"row1-3","t":285,"v":1077},
{"s":"row2-1","t":5,"v":895},{"s":"row2-1","t":15,"v":894},{"s":"row2-1","t":25,"v":896},{"s":"row2-1","t":35,"v":895},{"s":"row2-1","t":45,"v":897},{"s":"row2-1","t":55,"v":893},{"s":"row2-1","t":65,"v":896},{"s":"row2-1","t":75,"v":895},{"s":"row2-1","t":85,"v":894},{"s":"row2-1","t":95,"v":897},{"s":"row2-1","t":105,"v":895},{"s":"row2-1","t":115,"v":896},{"s":"row2-1","t":125,"v":894},{"s":"row2-1","t":135,"v":897},{"s":"row2-1","t":145,"v":895},{"s":"row2-1","t":155,"v":893},{"s":"row2-1","t":165,"v":896},{"s":"row2-1","t":175,"v":895},{"s":"row2-1","t":185,"v":897},{"s":"row2-1","t":195,"v":894},{"s":"row2-1","t":205,"v":896},{"s":"row2-1","t":215,"v":895},{"s":"row2-1","t":225,"v":897},{"s":"row2-1","t":235,"v":894},{"s":"row2-1","t":245,"v":895},{"s":"row2-1","t":255,"v":896},{"s":"row2-1","t":265,"v":894},{"s":"row2-1","t":275,"v":897},
{"s":"row2-2","t":5,"v":972},{"s":"row2-2","t":15,"v":973},{"s":"row2-2","t":25,"v":973},{"s":"row2-2","t":35,"v":974},{"s":"row2-2","t":45,"v":975},{"s":"row2-2","t":55,"v":975},{"s":"row2-2","t":65,"v":976},{"s":"row2-2","t":75,"v":977},{"s":"row2-2","t":85,"v":977},{"s":"row2-2","t":95,"v":978},{"s":"row2-2","t":105,"v":978},{"s":"row2-2","t":115,"v":979},{"s":"row2-2","t":125,"v":980},{"s":"row2-2","t":135,"v":980},{"s":"row2-2","t":145,"v":981},{"s":"row2-2","t":155,"v":981},{"s":"row2-2","t":165,"v":982},{"s":"row2-2","t":175,"v":982},{"s":"row2-2","t":185,"v":983},{"s":"row2-2","t":195,"v":983},{"s":"row2-2","t":205,"v":984},{"s":"row2-2","t":215,"v":984},{"s":"row2-2","t":225,"v":985},{"s":"row2-2","t":235,"v":985},{"s":"row2-2","t":245,"v":985},{"s":"row2-2","t":255,"v":986},{"s":"row2-2","t":265,"v":986},{"s":"row2-2","t":275,"v":986},{"s":"row2-2","t":285,"v":986},
{"s":"row2-3","t":5,"v":1064},{"s":"row2-3","t":15,"v":1065},{"s":"row2-3","t":25,"v":1066},{"s":"row2-3","t":35,"v":1067},{"s":"row2-3","t":45,"v":1067},{"s":"row2-3","t":55,"v":1068},{"s":"row2-3","t":65,"v":1069},{"s":"row2-3","t":75,"v":1069},{"s":"row2-3","t":85,"v":1070},{"s":"row2-3","t":95,"v":1070},{"s":"row2-3","t":105,"v":1071},{"s":"row2-3","t":115,"v":1072},{"s":"row2-3","t":125,"v":1072},{"s":"row2-3","t":135,"v":1073},{"s":"row2-3","t":145,"v":1073},{"s":"row2-3","t":155,"v":1074},{"s":"row2-3","t":165,"v":1074},{"s":"row2-3","t":175,"v":1075},{"s":"row2-3","t":185,"v":1075},{"s":"row2-3","t":195,"v":1076},{"s":"row2-3","t":205,"v":1076},{"s":"row2-3","t":215,"v":1077},{"s":"row2-3","t":225,"v":1077},{"s":"row2-3","t":235,"v":1078},{"s":"row2-3","t":245,"v":1078},{"s":"row2-3","t":255,"v":1078},{"s":"row2-3","t":265,"v":1079},{"s":"row2-3","t":275,"v":1079},{"s":"row2-3","t":285,"v":1079},
{"s":"row3-1","t":5,"v":885},{"s":"row3-1","t":15,"v":884},{"s":"row3-1","t":25,"v":886},{"s":"row3-1","t":35,"v":885},{"s":"row3-1","t":45,"v":884},{"s":"row3-1","t":55,"v":886},{"s":"row3-1","t":65,"v":885},{"s":"row3-1","t":75,"v":884},{"s":"row3-1","t":85,"v":886},{"s":"row3-1","t":95,"v":885},{"s":"row3-1","t":105,"v":884},{"s":"row3-1","t":115,"v":886},{"s":"row3-1","t":125,"v":885},{"s":"row3-1","t":135,"v":884},{"s":"row3-1","t":145,"v":886},{"s":"row3-1","t":155,"v":885},{"s":"row3-1","t":165,"v":884},{"s":"row3-1","t":175,"v":886},{"s":"row3-1","t":185,"v":885},{"s":"row3-1","t":195,"v":884},{"s":"row3-1","t":205,"v":886},{"s":"row3-1","t":215,"v":885},{"s":"row3-1","t":225,"v":884},{"s":"row3-1","t":235,"v":886},{"s":"row3-1","t":245,"v":885},{"s":"row3-1","t":255,"v":884},{"s":"row3-1","t":265,"v":886},{"s":"row3-1","t":275,"v":885},
{"s":"row3-3","t":5,"v":1052},{"s":"row3-3","t":15,"v":1053},{"s":"row3-3","t":25,"v":1054},{"s":"row3-3","t":35,"v":1055},{"s":"row3-3","t":45,"v":1056},{"s":"row3-3","t":55,"v":1056},{"s":"row3-3","t":65,"v":1057},{"s":"row3-3","t":75,"v":1058},{"s":"row3-3","t":85,"v":1059},{"s":"row3-3","t":95,"v":1059},{"s":"row3-3","t":105,"v":1060},{"s":"row3-3","t":115,"v":1061},{"s":"row3-3","t":125,"v":1062},{"s":"row3-3","t":135,"v":1062},{"s":"row3-3","t":145,"v":1063},{"s":"row3-3","t":155,"v":1064},{"s":"row3-3","t":165,"v":1064},{"s":"row3-3","t":175,"v":1065},{"s":"row3-3","t":185,"v":1066},{"s":"row3-3","t":195,"v":1066},{"s":"row3-3","t":205,"v":1067},{"s":"row3-3","t":215,"v":1068},{"s":"row3-3","t":225,"v":1068},{"s":"row3-3","t":235,"v":1069},{"s":"row3-3","t":245,"v":1070},{"s":"row3-3","t":255,"v":1070},{"s":"row3-3","t":265,"v":1071},{"s":"row3-3","t":275,"v":1071},{"s":"row3-3","t":285,"v":1072}
]},
"layer":[
{"mark":{"type":"line","strokeWidth":2},
 "encoding":{
  "x":{"field":"t","type":"quantitative","scale":{"domain":[0,1000],"nice":false,"zero":false},
   "axis":{"title":"Time, s","values":[0,100,200,300,400,500,600,700,800,900,1000],"format":"d","labelFont":"Liberation Sans","labelFontSize":21,"labelColor":"black","labelPadding":14,"labelFlush":false,"labelOverlap":false,"tickSize":7,"tickColor":"black","tickWidth":1,"domainColor":"black","domainWidth":1.5,"grid":true,"gridColor":"black","gridWidth":1,"gridOpacity":{"condition":{"test":"datum.value == 1000","value":0},"value":1},"titleFont":"Liberation Sans","titleFontSize":25,"titleFontWeight":"bold","titleColor":"black","titlePadding":12}},
  "y":{"field":"v","type":"quantitative","scale":{"domain":[0,1200],"nice":false,"zero":false},
   "axis":{"title":"Temperature, C","values":[0,200,400,600,800,1000,1200],"format":"d","labelFont":"Liberation Sans","labelFontSize":21,"labelColor":"black","labelPadding":9,"labelFlush":false,"labelOverlap":false,"tickSize":7,"tickColor":"black","tickWidth":1,"domainColor":"black","domainWidth":1.5,"grid":true,"gridColor":"black","gridWidth":1,"gridOpacity":{"condition":{"test":"datum.value == 1200","value":0},"value":1},"titleFont":"Liberation Sans","titleFontSize":25,"titleFontWeight":"bold","titleColor":"black","titlePadding":9}},
  "color":{"field":"s","type":"nominal",
   "scale":{"domain":["row1-1","row1-2","row1-3","row1-4","row1-5","row1-6","row1-7","row1-8","row2-1","row2-2","row2-3","row2-4","row2-5","row2-6","row2-7","row2-8","row3-1","row3-3","row3-4","row3-7","row3-8"],
    "range":["#000080","#FF00FF","#FFFF00","#00FFFF","#800080","#800000","#008080","#0000FF","#00CCFF","#CCFFFF","#CCFFCC","#FFFF99","#99CCFF","#FF99CC","#CC99FF","#FFCC99","#3366FF","#99CC00","#FFCC00","#666699","#969696"]},
   "legend":{"title":null,"orient":"none","legendX":814,"legendY":-20,"symbolType":"M-6.25,0H6.25","symbolSize":64,"symbolStrokeWidth":2,"symbolOffset":23,"labelOffset":20,"labelFont":"Liberation Sans","labelFontSize":20,"labelColor":"black","rowPadding":1.65,"padding":4,"strokeColor":"black","fillColor":"white","labelLimit":200}}
 }},
{"transform":[{"filter":{"field":"s","oneOf":["row1-1","row1-2","row1-3","row2-1","row2-2","row2-3","row3-1","row3-3"]}}],
 "mark":{"type":"point","stroke":"black","strokeWidth":2,"opacity":1},
 "encoding":{
  "x":{"field":"t","type":"quantitative"},
  "y":{"field":"v","type":"quantitative"},
  "shape":{"field":"s","type":"nominal",
   "scale":{"domain":["row1-1","row1-2","row1-3","row1-4","row1-5","row1-6","row1-7","row1-8","row2-1","row2-2","row2-3","row2-4","row2-5","row2-6","row2-7","row2-8","row3-1","row3-3","row3-4","row3-7","row3-8","zz"],
    "range":["M-1,-1H1V1H-1Z","M0,-1.25L1.25,0L0,1.25L-1.25,0Z","M0,-1.1L1.15,0.9H-1.15Z","M0,0","M0,0","M0,0","M0,0","M0,0","M-1,-1L1,1M-1,1L1,-1","M-1,-1L1,1M-1,1L1,-1M0,-1.3V1.3","M-1,-0.25H1V0.25H-1Z","M0,0","M0,0","M0,0","M0,0","M0,0","M-1,-0.25H1V0.25H-1Z","circle","M0,0","M0,0","M0,0","M0,0"]},
   "legend":{"title":null,"orient":"none","legendX":814,"legendY":-20,"symbolSize":64,"symbolStrokeWidth":1.8,"symbolStrokeColor":"black","symbolFillColor":"transparent","symbolOffset":23,"labelOffset":20,"labelFont":"Liberation Sans","labelFontSize":20,"labelColor":"transparent","rowPadding":1.65,"padding":4,"labelLimit":200}},
  "fill":{"field":"s","type":"nominal","scale":{"domain":["row1-1","row1-2","row1-3","row2-1","row2-2","row2-3","row3-1","row3-3"],"range":["white","#FF00FF","#FFFF00","transparent","transparent","black","black","transparent"]},"legend":null},
  "size":{"field":"s","type":"nominal","scale":{"domain":["row1-1","row1-2","row1-3","row2-1","row2-2","row2-3","row3-1","row3-3"],"range":[64,56,72,72,120,72,72,64]},"legend":null}
 }}
]
}
